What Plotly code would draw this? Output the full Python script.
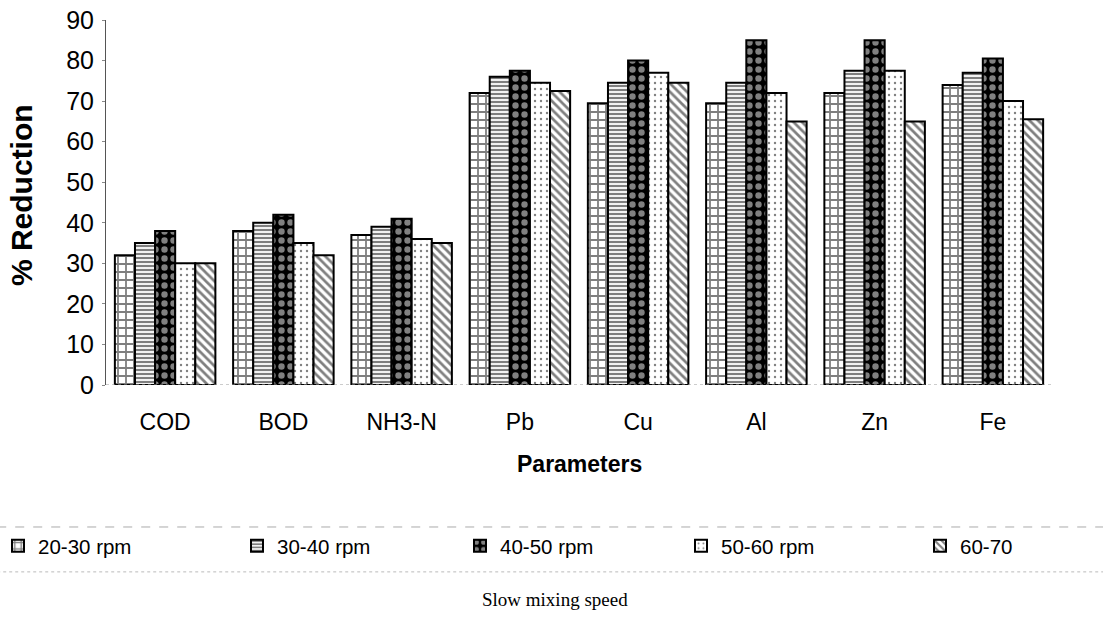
import plotly.graph_objects as go

categories = ["COD", "BOD", "NH3-N", "Pb", "Cu", "Al", "Zn", "Fe"]
series_names = ["20-30 rpm", "30-40 rpm", "40-50 rpm", "50-60 rpm", "60-70"]
v_20_30 = [32, 38, 37, 72, 69.5, 69.5, 72, 74]
v_30_40 = [35, 40, 39, 76, 74.5, 74.5, 77.5, 77]
v_40_50 = [38, 42, 41, 77.5, 80, 85, 85, 80.5]
v_50_60 = [30, 35, 36, 74.5, 77, 72, 77.5, 70]
v_60_70 = [30, 32, 35, 72.5, 74.5, 65, 65, 65.5]
y_ticks = [0, 10, 20, 30, 40, 50, 60, 70, 80, 90]

series_values = [v_20_30, v_30_40, v_40_50, v_50_60, v_60_70]
patterns = [
    dict(shape="+", fgcolor="black", bgcolor="white", size=8, solidity=0.4),
    dict(shape="-", fgcolor="black", bgcolor="white", size=4, solidity=0.55),
    dict(shape=".", fgcolor="white", bgcolor="black", size=9, solidity=0.4),
    dict(shape=".", fgcolor="black", bgcolor="white", size=6, solidity=0.12),
    dict(shape="\\", fgcolor="black", bgcolor="white", size=6, solidity=0.45),
]

PLOT_L, PLOT_W = 106, 946
legend_left_px = [-2, 237, 460, 681, 920]
legend_ids = ["legend", "legend2", "legend3", "legend4", "legend5"]

FONT = "Liberation Sans, Arial, sans-serif"

fig = go.Figure()
for name, vals, pat, lid in zip(series_names, series_values, patterns, legend_ids):
    fig.add_trace(go.Bar(
        x=categories, y=vals, name=name, legend=lid,
        marker=dict(color="white", line=dict(color="black", width=2), pattern=pat),
    ))

legend_layouts = {}
for lid, px in zip(legend_ids, legend_left_px):
    legend_layouts[lid] = dict(
        x=(px - PLOT_L) / PLOT_W, xanchor="left", y=-0.441, yanchor="middle",
        orientation="h", bgcolor="rgba(0,0,0,0)", borderwidth=0,
        font=dict(family=FONT, size=20.5, color="black"), itemwidth=30,
    )

fig.update_layout(
    width=1103, height=623,
    margin=dict(l=PLOT_L, r=1103 - PLOT_L - PLOT_W, t=20, b=238, autoexpand=False),
    paper_bgcolor="white", plot_bgcolor="white",
    barmode="group", bargap=0.15, bargroupgap=0,
    font=dict(family=FONT, size=18, color="black"),
    showlegend=True,
    **legend_layouts,
    xaxis=dict(
        showgrid=False, zeroline=False, showline=False, ticks="",
        tickfont=dict(family=FONT, size=23), ticklabelstandoff=21,
    ),
    yaxis=dict(
        range=[0, 90], tickvals=y_ticks, showgrid=False, zeroline=False,
        showline=True, linecolor="#555", linewidth=1,
        ticks="outside", ticklen=3, tickcolor="#888",
        tickfont=dict(family=FONT, size=25), ticklabelstandoff=3,
    ),
    shapes=[
        dict(type="line", xref="paper", yref="y", x0=0, x1=1, y0=0, y1=0,
             line=dict(color="#999", width=1, dash="dot")),
        dict(type="line", xref="paper", yref="paper", x0=-0.115, x1=1.06,
             y0=-0.389, y1=-0.389, line=dict(color="#aaa", width=1, dash="dash")),
        dict(type="line", xref="paper", yref="paper", x0=-0.115, x1=1.06,
             y0=-0.512, y1=-0.512, line=dict(color="#bbb", width=1, dash="dot")),
    ],
    annotations=[
        dict(text="<b>% Reduction</b>", textangle=-90, xref="paper", yref="paper",
             x=-0.09, y=0.52, xanchor="center", yanchor="middle", showarrow=False,
             font=dict(family=FONT, size=30, color="black")),
        dict(text="<b>Parameters</b>", xref="paper", yref="paper",
             x=0.5, y=-0.216, xanchor="center", yanchor="middle", showarrow=False,
             font=dict(family=FONT, size=23, color="black")),
        dict(text="Slow mixing speed", xref="paper", yref="paper",
             x=0.475, y=-0.589, xanchor="center", yanchor="middle", showarrow=False,
             font=dict(family="Liberation Serif, Times New Roman, serif", size=19, color="black")),
    ],
)

fig.write_html("out.html")
